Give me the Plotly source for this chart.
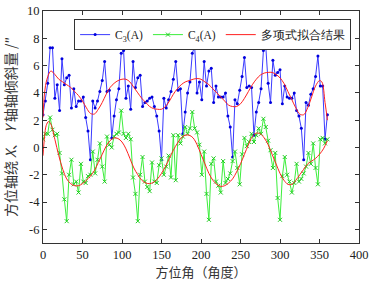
import plotly.graph_objects as go

# ---- data ----
angle = list(range(0, 361, 3))

c3 = [2.4, 3.4, 4.7, 7.3, 7.3, 3.6, 4.6, 2.7, 6.5, 4.6, 5.1, 5.3, 2.9, 4.3, 3.0, 3.4, 3.4, 3.7, 2.2, 1.2,
      -0.9, 3.4, 2.9, 3.4, 4.1, 4.9, 6.3, 4.1, 4.2, 0.7, 2.3, 3.5, 4.3, 6.9, 7.1, 3.6, 4.5, 2.8, 6.3, 4.4,
      5.1, 5.3, 3.0, 3.3, 3.4, 3.6, 3.7, 3.0, 2.3, 1.2, -0.9, 3.6, 2.9, 3.5, 4.1, 5.0, 6.3, 4.2, 4.3, 1.0,
      2.6, 4.0, 4.8, 6.9, 7.4, 4.0, 4.8, 3.5, 6.3, 4.5, 5.6, 5.8, 3.3, 4.5, 3.7, 3.7, 3.7, 4.0, 2.3, 1.5,
      -0.7, 3.5, 3.2, 4.2, 5.2, 6.6, 4.4, 4.5, 4.4, 0.9, 2.6, 3.3, 4.3, 7.1, 7.4, 4.7, 3.3, 6.4, 5.3, 5.5,
      5.7, 3.2, 4.5, 3.7, 3.6, 3.6, 4.0, 2.7, 2.3, 1.4, -0.9, 3.3, 3.1, 3.9, 4.3, 5.2, 6.7, 4.5, 4.5, 0.6,
      2.4]

c4 = [0.6, 1.0, 1.0, 2.2, 1.3, 0.9, 1.0, -0.4, -1.9, -3.8, -5.4, -2.0, -0.9, -2.7, -2.5, -3.3, -1.2, -2.5, -2.6, -2.1,
      -2.0, -0.3, -1.9, -0.9, 0.3, -1.4, -2.5, 0.8, 0.2, 0.0, 0.8, 1.0, 1.1, 2.7, 1.0, 0.7, 1.0, 0.6, -2.2, -3.4,
      -5.4, -2.0, -0.7, -2.5, -2.9, -3.2, -1.1, -2.5, -2.6, -1.3, -0.8, -2.0, -1.4, -0.6, -2.2, 0.9, -2.4, 0.9, 0.3, 0.8,
      1.5, 1.0, 1.4, 2.6, 1.4, 1.1, 0.2, -2.0, -0.3, -3.4, -5.3, -1.2, -0.8, -2.5, -2.8, -3.3, -1.0, -2.6, -2.3, -1.9,
      -1.0, -0.3, -1.5, -2.7, -0.5, 0.7, 0.1, 0.4, 1.0, 0.4, 0.9, 1.4, 1.0, 2.1, 1.5, 0.5, -0.2, -1.5, -0.4, -3.7,
      -5.3, -2.1, -0.7, -2.0, -2.5, -3.3, -2.6, -1.2, -2.5, -2.3, -1.9, -1.4, -0.4, -1.2, 0.3, -1.5, -2.7, 0.6, 0.7, 0.3,
      0.6]

fit_angle = [0, 2, 5, 10, 15, 20, 25, 30, 35, 40, 45, 50, 55, 60, 65, 70, 75, 80, 85, 90,
             95, 100, 105, 110, 115, 120, 125, 130, 135, 140, 145, 150, 155, 160, 165, 170, 175, 180, 185, 190,
             195, 200, 205, 210, 215, 220, 225, 230, 235, 240, 245, 250, 255, 260, 265, 270, 275, 280, 285, 290,
             295, 300, 305, 310, 315, 320, 325, 330, 335, 340, 345, 350, 353, 357, 360]
fit_c3 = [2.2, 4.0, 5.0, 5.6, 5.35, 5.0, 4.8, 4.6, 4.4, 4.1, 3.8, 3.4, 2.9, 2.5, 2.45, 2.8, 3.3, 3.9, 4.4, 4.7,
          4.9, 5.0, 5.0, 4.8, 4.4, 4.0, 3.6, 3.3, 3.0, 2.85, 2.8, 2.8, 3.0, 3.4, 3.9, 4.3, 4.6, 4.8, 4.9, 5.0,
          5.05, 5.0, 4.8, 4.6, 4.3, 4.0, 3.7, 3.4, 3.1, 3.0, 3.0, 3.2, 3.6, 4.1, 4.6, 5.0, 5.3, 5.45, 5.5, 5.5,
          5.35, 5.1, 4.7, 4.1, 3.5, 2.9, 2.45, 2.4, 2.9, 3.7, 4.5, 4.9, 4.8, 3.3, 2.0]

fit_angle4 = [0, 2, 4, 7, 10, 15, 20, 25, 30, 35, 40, 45, 50, 55, 60, 65, 70, 75, 80, 85,
              90, 95, 100, 105, 110, 115, 120, 125, 130, 135, 140, 145, 150, 155, 160, 165, 170, 175, 180, 185,
              190, 195, 200, 205, 210, 215, 220, 225, 230, 235, 240, 245, 250, 255, 260, 265, 270, 275, 280, 285,
              290, 295, 300, 305, 310, 315, 320, 325, 330, 335, 340, 345, 350, 355, 360]
fit_c4 = [-0.6, 0.8, 1.6, 1.9, 1.7, 0.6, -0.6, -1.6, -2.3, -2.65, -2.8, -2.8, -2.65, -2.4, -2.1, -1.7, -1.1, -0.5, 0.1, 0.5,
          0.7, 0.65, 0.4, -0.1, -0.8, -1.5, -2.0, -2.4, -2.6, -2.65, -2.55, -2.3, -1.9, -1.4, -0.8, -0.2, 0.3, 0.7, 0.9, 0.9,
          0.7, 0.2, -0.5, -1.2, -1.9, -2.4, -2.7, -2.85, -2.8, -2.6, -2.3, -1.8, -1.2, -0.5, 0.2, 0.8, 1.05, 1.0, 0.7, 0.2,
          -0.5, -1.2, -1.9, -2.4, -2.7, -2.7, -2.4, -2.0, -1.6, -1.2, -1.0, -0.8, -0.5, -0.1, 0.5]

y_ticks = [-6, -4, -2, 0, 2, 4, 6, 8, 10]
y_tick_text = ["-6", "-4", "-2", "0", "2", "4", "6", "8", "10"]
x_ticks = [0, 50, 100, 150, 200, 250, 300, 350, 400]

serif = "Liberation Serif, Times New Roman, serif"
cjk = "Noto Sans CJK SC"

fig = go.Figure()
fig.add_trace(go.Scatter(
    x=angle, y=c3, mode="lines+markers", name="C<sub>3</sub>(A)",
    line=dict(color="#3a3aff", width=1),
    marker=dict(symbol="circle", size=3, color="#0000dd"),
))
fig.add_trace(go.Scatter(
    x=angle, y=c4, mode="lines+markers", name="C<sub>4</sub>(A)",
    line=dict(color="#3cee3c", width=1),
    marker=dict(symbol="x-thin", size=4, color="#22cc22", line=dict(color="#22cc22", width=1)),
))
fig.add_trace(go.Scatter(
    x=fit_angle, y=fit_c3, mode="lines", name="多项式拟合结果",
    line=dict(color="#ff2020", width=1, shape="spline"),
))
fig.add_trace(go.Scatter(
    x=fit_angle4, y=fit_c4, mode="lines", showlegend=False,
    line=dict(color="#ff2020", width=1, shape="spline"),
))

axis_common = dict(
    showline=True, linecolor="#333333", linewidth=1, mirror="ticks",
    ticks="inside", ticklen=4, tickcolor="#333333", showgrid=False, zeroline=False,
    automargin=False,
    tickfont=dict(family=serif, size=12.5, color="#222222"),
)

fig.update_layout(
    width=375, height=281,
    margin=dict(l=43, r=16, t=11, b=38),
    paper_bgcolor="white", plot_bgcolor="white",
    xaxis=dict(range=[0, 400], tickvals=x_ticks,
               title=dict(text="方位角（角度）", font=dict(family=cjk, size=13, color="#333333")),
               **axis_common),
    yaxis=dict(range=[-7, 10], tickvals=y_ticks, ticktext=y_tick_text,
               title=dict(text="方位轴绕 <i>X</i>、 <i>Y</i> 轴轴倾斜量 /″",
                          font=dict(family=cjk, size=14, color="#333333")),
               **axis_common),
    legend=dict(orientation="h", x=0.975, y=0.965, xanchor="right", yanchor="top",
                bgcolor="white", bordercolor="#333333", borderwidth=1,
                font=dict(family=serif, size=11.5, color="#222222"),
                itemwidth=30, tracegroupgap=0),
    showlegend=True,
)

# remove the default 8px page margin so the figure sits at the window's corner
fig.write_html("out.html", config={"displayModeBar": False},
               post_script="document.body.style.margin='0px';")
